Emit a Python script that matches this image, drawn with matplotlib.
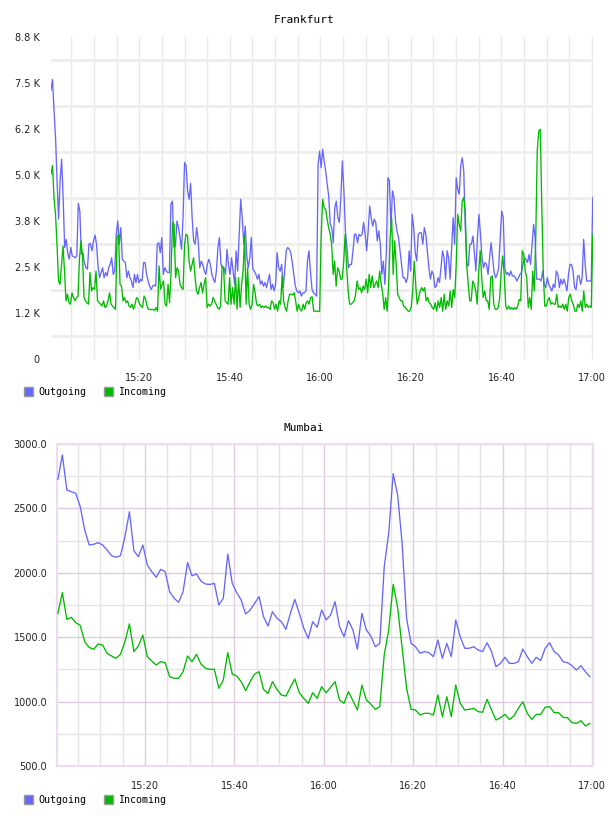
import matplotlib
matplotlib.use('Agg')
import matplotlib.pyplot as plt
import numpy as np
from matplotlib.patches import Patch

BLUE = '#6666ff'
GREEN = '#00bb00'

# Frankfurt, one value every ~20 s from 15:00:30 to 17:00
fra_outgoing = [
    7300, 7600, 6740, 6020, 4840, 3800, 4840, 5430, 4380, 3030, 3250, 2890, 2710, 3030, 2800, 2780, 2750, 2800,
    4230, 4020, 2850, 2890, 2620, 2480, 2440, 3120, 3140, 2940, 3210, 3370, 3120, 2530, 2210, 2350, 2480, 2210,
    2350, 2260, 2480, 2570, 2750, 2300, 2390, 3390, 3750, 3120, 3570, 2710, 2660, 2620, 2210, 2390, 2210, 2120,
    1940, 2300, 2070, 2300, 2070, 2160, 2120, 2620, 2620, 2300, 2120, 1980, 1890, 1980, 2010, 1980, 3120, 3160,
    2890, 3300, 2300, 2480, 2390, 2350, 2350, 4200, 4290, 3030, 3070, 3750, 3570, 3300, 2980, 3840, 5340, 5250,
    4570, 4340, 4770, 3840, 3210, 3120, 3570, 3210, 2480, 2660, 2570, 2390, 2300, 2570, 2710, 2570, 2300, 2170,
    2080, 2390, 3030, 3300, 2570, 2480, 2480, 2300, 2980, 2530, 2300, 2750, 2390, 2030, 2940, 2390, 3390, 4340,
    3840, 3120, 3610, 2800, 2480, 2750, 3300, 2440, 2390, 2300, 2170, 2300, 2030, 2120, 1980, 2080, 1940, 2120,
    2300, 1890, 2030, 1850, 2030, 2890, 2480, 2390, 2570, 1940, 2390, 2940, 3030, 2980, 2890, 2620, 2300, 1980,
    1850, 1800, 1850, 1710, 1800, 1800, 1850, 2660, 2940, 2350, 1890, 1800, 1760, 1710, 5290, 5650, 5200, 5700,
    5380, 5110, 4750, 4430, 3660, 3570, 3160, 4110, 4290, 3840, 3710, 4390, 5380, 4570, 3480, 3030, 2480, 2570,
    2570, 2940, 3390, 3390, 3160, 3390, 3340, 3390, 3710, 3390, 2940, 3480, 4160, 3840, 3610, 3800, 3710, 3210,
    3480, 3120, 2300, 2660, 2030, 2940, 4930, 4840, 3570, 4570, 4390, 3750, 3480, 3300, 2940, 2570, 2210, 2210,
    2080, 2210, 2940, 2390, 3930, 3570, 2890, 2660, 3390, 3430, 3430, 3120, 3570, 3390, 2940, 2480, 2170, 2390,
    2300, 1940, 1980, 2210, 2080, 2480, 2940, 2750, 2170, 2940, 2750, 2170, 3030, 3840, 3120, 4930, 4610, 4480,
    5250, 5470, 5110, 3570, 2570, 2530, 3120, 3120, 3340, 2890, 2390, 3300, 3930, 3390, 2750, 2480, 2620, 2570,
    2300, 2750, 3160, 2750, 2350, 2210, 2300, 2480, 3300, 4020, 3840, 2480, 2300, 2350, 2260, 2390, 2260, 2260,
    2210, 2120, 2210, 2300, 2350, 2570, 2750, 2710, 2620, 2840, 2570, 3120, 3660, 3300, 2170, 2170, 2170, 2120,
    2390, 2030, 1940, 2210, 2030, 1940, 1850, 2030, 1940, 2390, 2300, 1940, 2170, 2030, 2170, 2030, 1850, 2300,
    2570, 2570, 2390, 1940, 1890, 2260, 2260, 2030, 2210, 3250, 2570, 2120, 2120, 2120, 2120, 4390,
]
fra_incoming = [
    5020, 5260, 4380, 3930, 3120, 2120, 2030, 2570, 3070, 2390, 1580, 1760, 1530, 1490, 1800, 1670, 1580, 1670,
    1710, 2750, 3210, 2800, 1670, 1580, 1530, 1490, 2350, 1850, 1940, 1890, 2390, 1580, 1530, 1490, 1440, 1580,
    1400, 1440, 1580, 1800, 1490, 1440, 1400, 1350, 3300, 3390, 2030, 1980, 1580, 1670, 1530, 1580, 1440, 1400,
    1490, 1350, 1490, 1670, 1630, 1490, 1440, 1400, 1710, 1630, 1440, 1350, 1350, 1340, 1350, 1320, 1400, 1300,
    2530, 1890, 2030, 2120, 1490, 1440, 2030, 1530, 2390, 3710, 3660, 2210, 2480, 2390, 2030, 1940, 1890, 3120,
    3390, 3340, 2660, 2390, 2570, 2750, 2210, 1850, 1760, 1940, 2080, 1800, 2030, 2210, 1400, 1490, 1440, 1490,
    1670, 1580, 1490, 1400, 1350, 1440, 2530, 2480, 1580, 1530, 1490, 2210, 1490, 1940, 1490, 2210, 1350, 2210,
    1400, 2030, 2390, 3340, 1490, 2480, 1490, 1350, 1490, 2030, 1800, 1490, 1440, 1490, 1400, 1440, 1400, 1440,
    1400, 1400, 1350, 1580, 1530, 1350, 1490, 1300, 1580, 1490, 2260, 1580, 1400, 1300, 1580, 1760, 1760, 1740,
    1800, 1580, 1300, 1490, 1350, 1300, 1490, 1350, 1530, 1580, 1490, 1670, 1690, 1300, 1300, 1300, 1290, 1300,
    3300, 4340, 4110, 4070, 3800, 3570, 3390, 3120, 2300, 2660, 1980, 2480, 2390, 2170, 2170, 2620, 3390, 2480,
    1850, 1490, 1490, 1530, 1580, 1760, 2120, 1890, 1940, 1800, 1980, 1890, 2170, 1800, 2300, 1940, 2260, 1940,
    2030, 2120, 1940, 2390, 2030, 1800, 1350, 1670, 1300, 2030, 3300, 3840, 2300, 3210, 2570, 1760, 1670, 1580,
    1580, 1440, 1400, 1350, 1300, 1300, 1400, 1850, 2660, 2030, 1490, 1670, 1850, 1940, 1850, 1940, 1580, 1670,
    1530, 1490, 1400, 1350, 1530, 1300, 1580, 1400, 1670, 1300, 1760, 1350, 1580, 1440, 1850, 1400, 1890, 1670,
    2570, 3930, 3660, 3480, 4290, 4390, 4020, 2570, 2030, 1580, 1580, 2120, 2030, 1850, 1490, 2390, 2940, 2210,
    1670, 1850, 1580, 1580, 1350, 2210, 2260, 1490, 1350, 1350, 1400, 1670, 2390, 2800, 2300, 1440, 1350, 1440,
    1350, 1400, 1350, 1400, 1350, 1440, 1620, 1580, 2940, 2840, 2390, 2210, 1400, 1670, 1350, 2390, 1850, 3300,
    5650, 6200, 6240, 4200, 2390, 1440, 1440, 1580, 1670, 1490, 1530, 1490, 1490, 1760, 1400, 1440, 1400, 1490,
    1350, 1490, 1300, 1670, 1760, 1580, 1490, 1300, 1300, 1490, 1400, 1580, 1300, 1850, 1400, 1490, 1400, 1440,
    1400, 3390,
]

# Mumbai, one value per minute
mum_outgoing = [
    2726, 2915, 2643, 2630, 2617, 2513, 2332, 2216, 2221, 2234, 2216, 2177, 2133, 2120, 2133, 2280, 2474, 2172,
    2125, 2216, 2061, 2009, 1965, 2027, 2009, 1853, 1802, 1771, 1853, 2079, 1977, 1991, 1936, 1913, 1910, 1918,
    1750, 1802, 2146, 1918, 1846, 1789, 1680, 1711, 1763, 1815, 1659, 1587, 1698, 1647, 1620, 1561, 1685, 1794,
    1685, 1569, 1491, 1620, 1577, 1711, 1634, 1672, 1776, 1582, 1504, 1628, 1556, 1406, 1685, 1556, 1509, 1426,
    1452, 2047, 2307, 2770, 2604, 2229, 1647, 1452, 1426, 1375, 1388, 1380, 1349, 1478, 1336, 1452, 1349, 1634,
    1504, 1414, 1414, 1426, 1401, 1388, 1457, 1388, 1271, 1297, 1344, 1297, 1297, 1310, 1408, 1349, 1297, 1344,
    1318, 1414, 1457, 1388, 1362, 1310, 1302, 1279, 1245, 1279, 1232, 1193,
]
mum_incoming = [
    1685, 1846, 1639, 1654, 1613, 1592, 1465, 1421, 1406, 1447, 1439, 1375, 1354, 1336, 1367, 1465, 1603, 1388,
    1432, 1517, 1349, 1315, 1284, 1310, 1302, 1193, 1181, 1181, 1232, 1354, 1310, 1367, 1292, 1259, 1251, 1251,
    1103, 1168, 1380, 1214, 1199, 1155, 1085, 1155, 1214, 1232, 1095, 1064, 1155, 1095, 1051, 1043, 1111, 1176,
    1069, 1025, 987, 1069, 1025, 1116, 1069, 1111, 1155, 1012, 987, 1077, 1007, 935, 1129, 1012, 981, 940,
    961, 1362, 1556, 1910, 1730, 1420, 1103, 940, 935, 896, 909, 909, 896, 1051, 883, 1038, 883, 1129,
    987, 935, 940, 948, 922, 917, 1018, 935, 857, 875, 901, 862, 888, 948, 999, 909, 862, 901,
    901, 956, 961, 914, 914, 878, 875, 836, 831, 852, 811, 831,
]

fra_yticks = [0, 1250, 2500, 3750, 5000, 6250, 7500, 8750]
fra_ylabels = ['0', '1.2 K', '2.5 K', '3.8 K', '5.0 K', '6.2 K', '7.5 K', '8.8 K']
mum_yticks = [500, 1000, 1500, 2000, 2500, 3000]
mum_ylabels = ['500.0', '1000.0', '1500.0', '2000.0', '2500.0', '3000.0']
xticks = [20, 40, 60, 80, 100, 120]
xlabels = ['15:20', '15:40', '16:00', '16:20', '16:40', '17:00']
series_names = ['Outgoing', 'Incoming']

W, H = 608, 816
fig = plt.figure(figsize=(W / 100, H / 100), dpi=100)
ax1 = fig.add_axes([51 / W, 1 - 359 / H, (593 - 51) / W, (359 - 37) / H])
ax2 = fig.add_axes([57 / W, 1 - 766 / H, (593 - 57) / W, (766 - 444) / H])

mono = 'DejaVu Sans Mono'

# --- Frankfurt ---
t_out = np.linspace(0.5, 120.2, len(fra_outgoing))
t_in = np.linspace(0.5, 120.2, len(fra_incoming))
ax1.plot(t_out, fra_outgoing, color=BLUE, lw=0.95, zorder=3)
ax1.plot(t_in, fra_incoming, color=GREEN, lw=0.95, zorder=3)
ax1.set_xlim(0.5, 120.25)
ax1.set_ylim(0, 8750)
ax1.set_yticks(fra_yticks)
ax1.set_yticklabels(fra_ylabels)
ax1.set_yticks([v + 625 for v in fra_yticks[:-1]], minor=True)
ax1.set_xticks(xticks)
ax1.set_xticklabels(xlabels)
ax1.set_xticks(range(5, 120, 5), minor=True)
ax1.grid(False)
ax1.grid(which='minor', axis='y', color='#eeeeee', lw=2)
ax1.grid(which='both', axis='x', color='#e8e8e8', lw=1)
ax1.set_axisbelow(True)
for s in ax1.spines.values():
    s.set_visible(False)
ax1.tick_params(which='both', length=0, labelsize=7, colors='#222222')
ax1.tick_params(axis='y', pad=8)
ax1.tick_params(axis='x', pad=10)

# --- Mumbai ---
t_m = np.arange(len(mum_outgoing)) + 0.5
ax2.plot(t_m, mum_outgoing, color=BLUE, lw=0.95, zorder=3)
ax2.plot(t_m, mum_incoming, color=GREEN, lw=0.95, zorder=3)
ax2.set_xlim(0.3, 120.2)
ax2.set_ylim(500, 3000)
ax2.set_yticks(mum_yticks)
ax2.set_yticklabels(mum_ylabels)
ax2.set_yticks(range(750, 3000, 500), minor=True)
ax2.set_xticks(xticks)
ax2.set_xticklabels(xlabels)
ax2.set_xticks([m for m in range(5, 120, 5) if m % 20], minor=True)
ax2.grid(which='major', color='#e0cce0', lw=1)
ax2.grid(which='minor', color='#e6e2e6', lw=1)
ax2.set_axisbelow(True)
for s in ax2.spines.values():
    s.set_color('#ecdcec')
    s.set_linewidth(1.5)
ax2.tick_params(which='both', length=0, labelsize=7, colors='#222222')
ax2.tick_params(axis='y', pad=7)
ax2.tick_params(axis='x', pad=11)

fig.text(0.5, 1 - 20 / H, 'Frankfurt', ha='center', va='center', family=mono, fontsize=8)
fig.text(0.5, 1 - 428 / H, 'Mumbai', ha='center', va='center', family=mono, fontsize=8)

handles = [Patch(facecolor=BLUE, edgecolor='#999999', lw=1),
           Patch(facecolor=GREEN, edgecolor='#999999', lw=1)]
for ypix in (392, 800):
    fig.legend(handles, series_names, loc='center left', bbox_to_anchor=(24 / W, 1 - ypix / H),
               ncol=2, frameon=False, handlelength=0.9, handleheight=0.9, handletextpad=0.5,
               columnspacing=1.8, borderpad=0, borderaxespad=0, prop={'family': mono, 'size': 7.2})

fig.savefig('out.png', dpi=100)
